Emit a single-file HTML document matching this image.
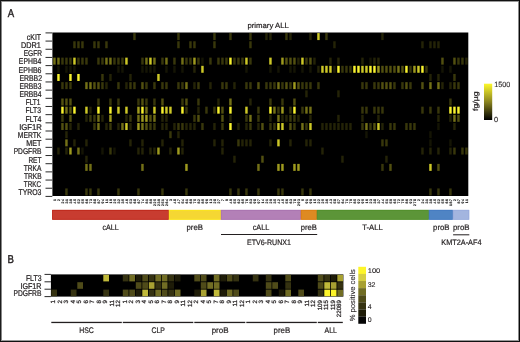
<!DOCTYPE html>
<html><head><meta charset="utf-8"><title>primary ALL heatmap</title>
<style>html,body{margin:0;padding:0;background:#fff;width:520px;height:342px;overflow:hidden;}svg{display:block;will-change:transform;text-rendering:geometricPrecision;} text{stroke:#231f20;stroke-width:0.22px;} text.n{stroke:none;} text.s{stroke:#111;stroke-width:0.18px;} text.g{stroke-width:0.2px;} text.m{stroke-width:0.22px;} text.p{stroke-width:0.45px;} text.t{stroke-width:0.1px;} text.r{stroke-width:0.24px;}</style>
</head><body>
<svg width="520" height="342" viewBox="0 0 520 342" font-family='"Liberation Sans", sans-serif'>
<rect x="0" y="0" width="520" height="342" fill="#fff"/>
<rect x="52.4" y="32.5" width="415.90" height="163.50" fill="#000"/>
<rect x="133.23" y="33.10" width="2.45" height="6.98" fill="rgb(56,55,11)"/>
<rect x="177.23" y="33.10" width="2.45" height="6.98" fill="rgb(56,55,11)"/>
<rect x="213.23" y="33.10" width="2.45" height="6.98" fill="rgb(56,55,11)"/>
<rect x="229.23" y="33.10" width="2.45" height="6.98" fill="rgb(56,55,11)"/>
<rect x="249.23" y="33.10" width="2.45" height="6.98" fill="rgb(56,55,11)"/>
<rect x="265.23" y="33.10" width="2.45" height="6.98" fill="rgb(36,35,7)"/>
<rect x="269.23" y="33.10" width="2.45" height="6.98" fill="rgb(36,35,7)"/>
<rect x="285.23" y="33.10" width="2.45" height="6.98" fill="rgb(56,55,11)"/>
<rect x="289.23" y="33.10" width="2.45" height="6.98" fill="rgb(36,35,7)"/>
<rect x="309.23" y="33.10" width="2.45" height="6.98" fill="rgb(36,35,7)"/>
<rect x="317.23" y="33.10" width="2.45" height="6.98" fill="rgb(205,200,39)"/>
<rect x="325.23" y="33.10" width="2.45" height="6.98" fill="rgb(56,55,11)"/>
<rect x="381.23" y="33.10" width="2.45" height="6.98" fill="rgb(36,35,7)"/>
<rect x="73.23" y="41.27" width="2.45" height="6.98" fill="rgb(56,55,11)"/>
<rect x="77.23" y="41.27" width="2.45" height="6.98" fill="rgb(56,55,11)"/>
<rect x="81.23" y="41.27" width="2.45" height="6.98" fill="rgb(56,55,11)"/>
<rect x="93.23" y="41.27" width="2.45" height="6.98" fill="rgb(56,55,11)"/>
<rect x="97.23" y="41.27" width="2.45" height="6.98" fill="rgb(56,55,11)"/>
<rect x="105.23" y="41.27" width="2.45" height="6.98" fill="rgb(56,55,11)"/>
<rect x="177.23" y="41.27" width="2.45" height="6.98" fill="rgb(56,55,11)"/>
<rect x="189.23" y="41.27" width="2.45" height="6.98" fill="rgb(56,55,11)"/>
<rect x="193.23" y="41.27" width="2.45" height="6.98" fill="rgb(56,55,11)"/>
<rect x="213.23" y="41.27" width="2.45" height="6.98" fill="rgb(56,55,11)"/>
<rect x="249.23" y="41.27" width="2.45" height="6.98" fill="rgb(56,55,11)"/>
<rect x="333.23" y="41.27" width="2.45" height="6.98" fill="rgb(36,35,7)"/>
<rect x="421.23" y="41.27" width="2.45" height="6.98" fill="rgb(36,35,7)"/>
<rect x="429.23" y="41.27" width="2.45" height="6.98" fill="rgb(36,35,7)"/>
<rect x="433.23" y="41.27" width="2.45" height="6.98" fill="rgb(36,35,7)"/>
<rect x="437.23" y="41.27" width="2.45" height="6.98" fill="rgb(36,35,7)"/>
<rect x="53.23" y="57.63" width="2.45" height="6.98" fill="rgb(115,112,22)"/>
<rect x="57.23" y="57.63" width="2.45" height="6.98" fill="rgb(115,112,22)"/>
<rect x="61.23" y="57.63" width="2.45" height="6.98" fill="rgb(56,55,11)"/>
<rect x="65.23" y="57.63" width="2.45" height="6.98" fill="rgb(56,55,11)"/>
<rect x="69.23" y="57.63" width="2.45" height="6.98" fill="rgb(56,55,11)"/>
<rect x="73.23" y="57.63" width="2.45" height="6.98" fill="rgb(205,200,39)"/>
<rect x="77.23" y="57.63" width="2.45" height="6.98" fill="rgb(56,55,11)"/>
<rect x="81.23" y="57.63" width="2.45" height="6.98" fill="rgb(56,55,11)"/>
<rect x="85.23" y="57.63" width="2.45" height="6.98" fill="rgb(56,55,11)"/>
<rect x="97.23" y="57.63" width="2.45" height="6.98" fill="rgb(56,55,11)"/>
<rect x="101.23" y="57.63" width="2.45" height="6.98" fill="rgb(56,55,11)"/>
<rect x="105.23" y="57.63" width="2.45" height="6.98" fill="rgb(115,112,22)"/>
<rect x="109.23" y="57.63" width="2.45" height="6.98" fill="rgb(115,112,22)"/>
<rect x="113.23" y="57.63" width="2.45" height="6.98" fill="rgb(56,55,11)"/>
<rect x="117.23" y="57.63" width="2.45" height="6.98" fill="rgb(56,55,11)"/>
<rect x="121.23" y="57.63" width="2.45" height="6.98" fill="rgb(56,55,11)"/>
<rect x="125.23" y="57.63" width="2.45" height="6.98" fill="rgb(205,200,39)"/>
<rect x="141.23" y="57.63" width="2.45" height="6.98" fill="rgb(56,55,11)"/>
<rect x="145.23" y="57.63" width="2.45" height="6.98" fill="rgb(115,112,22)"/>
<rect x="149.23" y="57.63" width="2.45" height="6.98" fill="rgb(205,200,39)"/>
<rect x="153.23" y="57.63" width="2.45" height="6.98" fill="rgb(115,112,22)"/>
<rect x="161.23" y="57.63" width="2.45" height="6.98" fill="rgb(56,55,11)"/>
<rect x="165.23" y="57.63" width="2.45" height="6.98" fill="rgb(115,112,22)"/>
<rect x="173.23" y="57.63" width="2.45" height="6.98" fill="rgb(56,55,11)"/>
<rect x="181.23" y="57.63" width="2.45" height="6.98" fill="rgb(115,112,22)"/>
<rect x="185.23" y="57.63" width="2.45" height="6.98" fill="rgb(56,55,11)"/>
<rect x="189.23" y="57.63" width="2.45" height="6.98" fill="rgb(56,55,11)"/>
<rect x="193.23" y="57.63" width="2.45" height="6.98" fill="rgb(158,154,30)"/>
<rect x="197.23" y="57.63" width="2.45" height="6.98" fill="rgb(56,55,11)"/>
<rect x="201.23" y="57.63" width="2.45" height="6.98" fill="rgb(20,20,4)"/>
<rect x="209.23" y="57.63" width="2.45" height="6.98" fill="rgb(56,55,11)"/>
<rect x="217.23" y="57.63" width="2.45" height="6.98" fill="rgb(56,55,11)"/>
<rect x="221.23" y="57.63" width="2.45" height="6.98" fill="rgb(56,55,11)"/>
<rect x="225.23" y="57.63" width="2.45" height="6.98" fill="rgb(56,55,11)"/>
<rect x="229.23" y="57.63" width="2.45" height="6.98" fill="rgb(248,242,47)"/>
<rect x="233.23" y="57.63" width="2.45" height="6.98" fill="rgb(56,55,11)"/>
<rect x="237.23" y="57.63" width="2.45" height="6.98" fill="rgb(56,55,11)"/>
<rect x="241.23" y="57.63" width="2.45" height="6.98" fill="rgb(56,55,11)"/>
<rect x="245.23" y="57.63" width="2.45" height="6.98" fill="rgb(205,200,39)"/>
<rect x="249.23" y="57.63" width="2.45" height="6.98" fill="rgb(56,55,11)"/>
<rect x="269.23" y="57.63" width="2.45" height="6.98" fill="rgb(205,200,39)"/>
<rect x="281.23" y="57.63" width="2.45" height="6.98" fill="rgb(158,154,30)"/>
<rect x="285.23" y="57.63" width="2.45" height="6.98" fill="rgb(82,80,16)"/>
<rect x="289.23" y="57.63" width="2.45" height="6.98" fill="rgb(82,80,16)"/>
<rect x="293.23" y="57.63" width="2.45" height="6.98" fill="rgb(82,80,16)"/>
<rect x="297.23" y="57.63" width="2.45" height="6.98" fill="rgb(36,35,7)"/>
<rect x="301.23" y="57.63" width="2.45" height="6.98" fill="rgb(205,200,39)"/>
<rect x="305.23" y="57.63" width="2.45" height="6.98" fill="rgb(56,55,11)"/>
<rect x="309.23" y="57.63" width="2.45" height="6.98" fill="rgb(82,80,16)"/>
<rect x="313.23" y="57.63" width="2.45" height="6.98" fill="rgb(36,35,7)"/>
<rect x="329.23" y="57.63" width="2.45" height="6.98" fill="rgb(36,35,7)"/>
<rect x="337.23" y="57.63" width="2.45" height="6.98" fill="rgb(36,35,7)"/>
<rect x="361.23" y="57.63" width="2.45" height="6.98" fill="rgb(36,35,7)"/>
<rect x="369.23" y="57.63" width="2.45" height="6.98" fill="rgb(20,20,4)"/>
<rect x="373.23" y="57.63" width="2.45" height="6.98" fill="rgb(36,35,7)"/>
<rect x="377.23" y="57.63" width="2.45" height="6.98" fill="rgb(36,35,7)"/>
<rect x="441.23" y="57.63" width="2.45" height="6.98" fill="rgb(82,80,16)"/>
<rect x="453.23" y="57.63" width="2.45" height="6.98" fill="rgb(82,80,16)"/>
<rect x="457.23" y="57.63" width="2.45" height="6.98" fill="rgb(56,55,11)"/>
<rect x="461.23" y="57.63" width="2.45" height="6.98" fill="rgb(56,55,11)"/>
<rect x="465.23" y="57.63" width="2.45" height="6.98" fill="rgb(36,35,7)"/>
<rect x="57.23" y="65.80" width="2.45" height="6.98" fill="rgb(20,20,4)"/>
<rect x="65.23" y="65.80" width="2.45" height="6.98" fill="rgb(20,20,4)"/>
<rect x="69.23" y="65.80" width="2.45" height="6.98" fill="rgb(20,20,4)"/>
<rect x="73.23" y="65.80" width="2.45" height="6.98" fill="rgb(20,20,4)"/>
<rect x="117.23" y="65.80" width="2.45" height="6.98" fill="rgb(20,20,4)"/>
<rect x="121.23" y="65.80" width="2.45" height="6.98" fill="rgb(20,20,4)"/>
<rect x="141.23" y="65.80" width="2.45" height="6.98" fill="rgb(20,20,4)"/>
<rect x="145.23" y="65.80" width="2.45" height="6.98" fill="rgb(20,20,4)"/>
<rect x="149.23" y="65.80" width="2.45" height="6.98" fill="rgb(20,20,4)"/>
<rect x="153.23" y="65.80" width="2.45" height="6.98" fill="rgb(20,20,4)"/>
<rect x="165.23" y="65.80" width="2.45" height="6.98" fill="rgb(20,20,4)"/>
<rect x="173.23" y="65.80" width="2.45" height="6.98" fill="rgb(20,20,4)"/>
<rect x="181.23" y="65.80" width="2.45" height="6.98" fill="rgb(20,20,4)"/>
<rect x="193.23" y="65.80" width="2.45" height="6.98" fill="rgb(36,35,7)"/>
<rect x="201.23" y="65.80" width="2.45" height="6.98" fill="rgb(205,200,39)"/>
<rect x="245.23" y="65.80" width="2.45" height="6.98" fill="rgb(20,20,4)"/>
<rect x="269.23" y="65.80" width="2.45" height="6.98" fill="rgb(20,20,4)"/>
<rect x="277.23" y="65.80" width="2.45" height="6.98" fill="rgb(20,20,4)"/>
<rect x="289.23" y="65.80" width="2.45" height="6.98" fill="rgb(20,20,4)"/>
<rect x="293.23" y="65.80" width="2.45" height="6.98" fill="rgb(20,20,4)"/>
<rect x="301.23" y="65.80" width="2.45" height="6.98" fill="rgb(20,20,4)"/>
<rect x="309.23" y="65.80" width="2.45" height="6.98" fill="rgb(20,20,4)"/>
<rect x="317.23" y="65.80" width="2.45" height="6.98" fill="rgb(36,35,7)"/>
<rect x="321.23" y="65.80" width="2.45" height="6.98" fill="rgb(205,200,39)"/>
<rect x="325.23" y="65.80" width="2.45" height="6.98" fill="rgb(205,200,39)"/>
<rect x="329.23" y="65.80" width="2.45" height="6.98" fill="rgb(205,200,39)"/>
<rect x="333.23" y="65.80" width="2.45" height="6.98" fill="rgb(36,35,7)"/>
<rect x="337.23" y="65.80" width="2.45" height="6.98" fill="rgb(248,242,47)"/>
<rect x="341.23" y="65.80" width="2.45" height="6.98" fill="rgb(56,55,11)"/>
<rect x="345.23" y="65.80" width="2.45" height="6.98" fill="rgb(56,55,11)"/>
<rect x="349.23" y="65.80" width="2.45" height="6.98" fill="rgb(56,55,11)"/>
<rect x="353.23" y="65.80" width="2.45" height="6.98" fill="rgb(248,242,47)"/>
<rect x="357.23" y="65.80" width="2.45" height="6.98" fill="rgb(248,242,47)"/>
<rect x="361.23" y="65.80" width="2.45" height="6.98" fill="rgb(205,200,39)"/>
<rect x="365.23" y="65.80" width="2.45" height="6.98" fill="rgb(205,200,39)"/>
<rect x="369.23" y="65.80" width="2.45" height="6.98" fill="rgb(248,242,47)"/>
<rect x="373.23" y="65.80" width="2.45" height="6.98" fill="rgb(248,242,47)"/>
<rect x="377.23" y="65.80" width="2.45" height="6.98" fill="rgb(158,154,30)"/>
<rect x="381.23" y="65.80" width="2.45" height="6.98" fill="rgb(82,80,16)"/>
<rect x="385.23" y="65.80" width="2.45" height="6.98" fill="rgb(82,80,16)"/>
<rect x="389.23" y="65.80" width="2.45" height="6.98" fill="rgb(82,80,16)"/>
<rect x="393.23" y="65.80" width="2.45" height="6.98" fill="rgb(82,80,16)"/>
<rect x="397.23" y="65.80" width="2.45" height="6.98" fill="rgb(115,112,22)"/>
<rect x="401.23" y="65.80" width="2.45" height="6.98" fill="rgb(82,80,16)"/>
<rect x="405.23" y="65.80" width="2.45" height="6.98" fill="rgb(248,242,47)"/>
<rect x="409.23" y="65.80" width="2.45" height="6.98" fill="rgb(56,55,11)"/>
<rect x="413.23" y="65.80" width="2.45" height="6.98" fill="rgb(158,154,30)"/>
<rect x="417.23" y="65.80" width="2.45" height="6.98" fill="rgb(205,200,39)"/>
<rect x="421.23" y="65.80" width="2.45" height="6.98" fill="rgb(248,242,47)"/>
<rect x="425.23" y="65.80" width="2.45" height="6.98" fill="rgb(56,55,11)"/>
<rect x="441.23" y="65.80" width="2.45" height="6.98" fill="rgb(20,20,4)"/>
<rect x="449.23" y="65.80" width="2.45" height="6.98" fill="rgb(20,20,4)"/>
<rect x="57.23" y="73.97" width="2.45" height="6.98" fill="rgb(248,242,47)"/>
<rect x="69.23" y="73.97" width="2.45" height="6.98" fill="rgb(248,242,47)"/>
<rect x="77.23" y="73.97" width="2.45" height="6.98" fill="rgb(248,242,47)"/>
<rect x="101.23" y="73.97" width="2.45" height="6.98" fill="rgb(56,55,11)"/>
<rect x="109.23" y="73.97" width="2.45" height="6.98" fill="rgb(36,35,7)"/>
<rect x="129.23" y="73.97" width="2.45" height="6.98" fill="rgb(36,35,7)"/>
<rect x="157.23" y="73.97" width="2.45" height="6.98" fill="rgb(205,200,39)"/>
<rect x="429.23" y="73.97" width="2.45" height="6.98" fill="rgb(36,35,7)"/>
<rect x="437.23" y="73.97" width="2.45" height="6.98" fill="rgb(36,35,7)"/>
<rect x="453.23" y="73.97" width="2.45" height="6.98" fill="rgb(56,55,11)"/>
<rect x="61.23" y="82.15" width="2.45" height="6.98" fill="rgb(56,55,11)"/>
<rect x="65.23" y="82.15" width="2.45" height="6.98" fill="rgb(56,55,11)"/>
<rect x="69.23" y="82.15" width="2.45" height="6.98" fill="rgb(56,55,11)"/>
<rect x="85.23" y="82.15" width="2.45" height="6.98" fill="rgb(115,112,22)"/>
<rect x="89.23" y="82.15" width="2.45" height="6.98" fill="rgb(115,112,22)"/>
<rect x="93.23" y="82.15" width="2.45" height="6.98" fill="rgb(82,80,16)"/>
<rect x="97.23" y="82.15" width="2.45" height="6.98" fill="rgb(82,80,16)"/>
<rect x="101.23" y="82.15" width="2.45" height="6.98" fill="rgb(56,55,11)"/>
<rect x="105.23" y="82.15" width="2.45" height="6.98" fill="rgb(36,35,7)"/>
<rect x="117.23" y="82.15" width="2.45" height="6.98" fill="rgb(56,55,11)"/>
<rect x="125.23" y="82.15" width="2.45" height="6.98" fill="rgb(36,35,7)"/>
<rect x="129.23" y="82.15" width="2.45" height="6.98" fill="rgb(56,55,11)"/>
<rect x="133.23" y="82.15" width="2.45" height="6.98" fill="rgb(56,55,11)"/>
<rect x="141.23" y="82.15" width="2.45" height="6.98" fill="rgb(82,80,16)"/>
<rect x="145.23" y="82.15" width="2.45" height="6.98" fill="rgb(56,55,11)"/>
<rect x="153.23" y="82.15" width="2.45" height="6.98" fill="rgb(56,55,11)"/>
<rect x="161.23" y="82.15" width="2.45" height="6.98" fill="rgb(56,55,11)"/>
<rect x="165.23" y="82.15" width="2.45" height="6.98" fill="rgb(56,55,11)"/>
<rect x="177.23" y="82.15" width="2.45" height="6.98" fill="rgb(56,55,11)"/>
<rect x="181.23" y="82.15" width="2.45" height="6.98" fill="rgb(56,55,11)"/>
<rect x="185.23" y="82.15" width="2.45" height="6.98" fill="rgb(115,112,22)"/>
<rect x="193.23" y="82.15" width="2.45" height="6.98" fill="rgb(36,35,7)"/>
<rect x="197.23" y="82.15" width="2.45" height="6.98" fill="rgb(56,55,11)"/>
<rect x="209.23" y="82.15" width="2.45" height="6.98" fill="rgb(36,35,7)"/>
<rect x="221.23" y="82.15" width="2.45" height="6.98" fill="rgb(56,55,11)"/>
<rect x="225.23" y="82.15" width="2.45" height="6.98" fill="rgb(56,55,11)"/>
<rect x="233.23" y="82.15" width="2.45" height="6.98" fill="rgb(36,35,7)"/>
<rect x="245.23" y="82.15" width="2.45" height="6.98" fill="rgb(56,55,11)"/>
<rect x="249.23" y="82.15" width="2.45" height="6.98" fill="rgb(56,55,11)"/>
<rect x="257.23" y="82.15" width="2.45" height="6.98" fill="rgb(82,80,16)"/>
<rect x="265.23" y="82.15" width="2.45" height="6.98" fill="rgb(56,55,11)"/>
<rect x="269.23" y="82.15" width="2.45" height="6.98" fill="rgb(56,55,11)"/>
<rect x="273.23" y="82.15" width="2.45" height="6.98" fill="rgb(56,55,11)"/>
<rect x="277.23" y="82.15" width="2.45" height="6.98" fill="rgb(115,112,22)"/>
<rect x="281.23" y="82.15" width="2.45" height="6.98" fill="rgb(56,55,11)"/>
<rect x="285.23" y="82.15" width="2.45" height="6.98" fill="rgb(82,80,16)"/>
<rect x="289.23" y="82.15" width="2.45" height="6.98" fill="rgb(56,55,11)"/>
<rect x="293.23" y="82.15" width="2.45" height="6.98" fill="rgb(158,154,30)"/>
<rect x="297.23" y="82.15" width="2.45" height="6.98" fill="rgb(82,80,16)"/>
<rect x="301.23" y="82.15" width="2.45" height="6.98" fill="rgb(56,55,11)"/>
<rect x="305.23" y="82.15" width="2.45" height="6.98" fill="rgb(56,55,11)"/>
<rect x="309.23" y="82.15" width="2.45" height="6.98" fill="rgb(56,55,11)"/>
<rect x="317.23" y="82.15" width="2.45" height="6.98" fill="rgb(56,55,11)"/>
<rect x="361.23" y="82.15" width="2.45" height="6.98" fill="rgb(56,55,11)"/>
<rect x="365.23" y="82.15" width="2.45" height="6.98" fill="rgb(56,55,11)"/>
<rect x="373.23" y="82.15" width="2.45" height="6.98" fill="rgb(56,55,11)"/>
<rect x="377.23" y="82.15" width="2.45" height="6.98" fill="rgb(56,55,11)"/>
<rect x="381.23" y="82.15" width="2.45" height="6.98" fill="rgb(82,80,16)"/>
<rect x="385.23" y="82.15" width="2.45" height="6.98" fill="rgb(82,80,16)"/>
<rect x="389.23" y="82.15" width="2.45" height="6.98" fill="rgb(82,80,16)"/>
<rect x="393.23" y="82.15" width="2.45" height="6.98" fill="rgb(56,55,11)"/>
<rect x="401.23" y="82.15" width="2.45" height="6.98" fill="rgb(56,55,11)"/>
<rect x="405.23" y="82.15" width="2.45" height="6.98" fill="rgb(82,80,16)"/>
<rect x="409.23" y="82.15" width="2.45" height="6.98" fill="rgb(56,55,11)"/>
<rect x="421.23" y="82.15" width="2.45" height="6.98" fill="rgb(82,80,16)"/>
<rect x="429.23" y="82.15" width="2.45" height="6.98" fill="rgb(115,112,22)"/>
<rect x="437.23" y="82.15" width="2.45" height="6.98" fill="rgb(115,112,22)"/>
<rect x="441.23" y="82.15" width="2.45" height="6.98" fill="rgb(36,35,7)"/>
<rect x="449.23" y="82.15" width="2.45" height="6.98" fill="rgb(36,35,7)"/>
<rect x="453.23" y="82.15" width="2.45" height="6.98" fill="rgb(56,55,11)"/>
<rect x="457.23" y="82.15" width="2.45" height="6.98" fill="rgb(56,55,11)"/>
<rect x="305.23" y="90.33" width="2.45" height="6.98" fill="rgb(36,35,7)"/>
<rect x="337.23" y="90.33" width="2.45" height="6.98" fill="rgb(36,35,7)"/>
<rect x="61.23" y="98.50" width="2.45" height="6.98" fill="rgb(82,80,16)"/>
<rect x="65.23" y="98.50" width="2.45" height="6.98" fill="rgb(82,80,16)"/>
<rect x="69.23" y="98.50" width="2.45" height="6.98" fill="rgb(82,80,16)"/>
<rect x="97.23" y="98.50" width="2.45" height="6.98" fill="rgb(56,55,11)"/>
<rect x="109.23" y="98.50" width="2.45" height="6.98" fill="rgb(56,55,11)"/>
<rect x="117.23" y="98.50" width="2.45" height="6.98" fill="rgb(56,55,11)"/>
<rect x="137.23" y="98.50" width="2.45" height="6.98" fill="rgb(56,55,11)"/>
<rect x="141.23" y="98.50" width="2.45" height="6.98" fill="rgb(82,80,16)"/>
<rect x="145.23" y="98.50" width="2.45" height="6.98" fill="rgb(56,55,11)"/>
<rect x="153.23" y="98.50" width="2.45" height="6.98" fill="rgb(56,55,11)"/>
<rect x="161.23" y="98.50" width="2.45" height="6.98" fill="rgb(82,80,16)"/>
<rect x="181.23" y="98.50" width="2.45" height="6.98" fill="rgb(56,55,11)"/>
<rect x="185.23" y="98.50" width="2.45" height="6.98" fill="rgb(82,80,16)"/>
<rect x="197.23" y="98.50" width="2.45" height="6.98" fill="rgb(56,55,11)"/>
<rect x="217.23" y="98.50" width="2.45" height="6.98" fill="rgb(36,35,7)"/>
<rect x="229.23" y="98.50" width="2.45" height="6.98" fill="rgb(115,112,22)"/>
<rect x="249.23" y="98.50" width="2.45" height="6.98" fill="rgb(36,35,7)"/>
<rect x="269.23" y="98.50" width="2.45" height="6.98" fill="rgb(56,55,11)"/>
<rect x="281.23" y="98.50" width="2.45" height="6.98" fill="rgb(56,55,11)"/>
<rect x="293.23" y="98.50" width="2.45" height="6.98" fill="rgb(82,80,16)"/>
<rect x="449.23" y="98.50" width="2.45" height="6.98" fill="rgb(56,55,11)"/>
<rect x="61.23" y="106.67" width="2.45" height="6.98" fill="rgb(248,242,47)"/>
<rect x="65.23" y="106.67" width="2.45" height="6.98" fill="rgb(115,112,22)"/>
<rect x="69.23" y="106.67" width="2.45" height="6.98" fill="rgb(82,80,16)"/>
<rect x="73.23" y="106.67" width="2.45" height="6.98" fill="rgb(248,242,47)"/>
<rect x="85.23" y="106.67" width="2.45" height="6.98" fill="rgb(205,200,39)"/>
<rect x="89.23" y="106.67" width="2.45" height="6.98" fill="rgb(36,35,7)"/>
<rect x="97.23" y="106.67" width="2.45" height="6.98" fill="rgb(248,242,47)"/>
<rect x="109.23" y="106.67" width="2.45" height="6.98" fill="rgb(248,242,47)"/>
<rect x="117.23" y="106.67" width="2.45" height="6.98" fill="rgb(205,200,39)"/>
<rect x="125.23" y="106.67" width="2.45" height="6.98" fill="rgb(205,200,39)"/>
<rect x="137.23" y="106.67" width="2.45" height="6.98" fill="rgb(158,154,30)"/>
<rect x="141.23" y="106.67" width="2.45" height="6.98" fill="rgb(248,242,47)"/>
<rect x="145.23" y="106.67" width="2.45" height="6.98" fill="rgb(115,112,22)"/>
<rect x="153.23" y="106.67" width="2.45" height="6.98" fill="rgb(205,200,39)"/>
<rect x="161.23" y="106.67" width="2.45" height="6.98" fill="rgb(248,242,47)"/>
<rect x="165.23" y="106.67" width="2.45" height="6.98" fill="rgb(205,200,39)"/>
<rect x="169.23" y="106.67" width="2.45" height="6.98" fill="rgb(205,200,39)"/>
<rect x="181.23" y="106.67" width="2.45" height="6.98" fill="rgb(248,242,47)"/>
<rect x="185.23" y="106.67" width="2.45" height="6.98" fill="rgb(56,55,11)"/>
<rect x="197.23" y="106.67" width="2.45" height="6.98" fill="rgb(36,35,7)"/>
<rect x="205.23" y="106.67" width="2.45" height="6.98" fill="rgb(56,55,11)"/>
<rect x="213.23" y="106.67" width="2.45" height="6.98" fill="rgb(56,55,11)"/>
<rect x="217.23" y="106.67" width="2.45" height="6.98" fill="rgb(248,242,47)"/>
<rect x="221.23" y="106.67" width="2.45" height="6.98" fill="rgb(82,80,16)"/>
<rect x="229.23" y="106.67" width="2.45" height="6.98" fill="rgb(248,242,47)"/>
<rect x="245.23" y="106.67" width="2.45" height="6.98" fill="rgb(205,200,39)"/>
<rect x="257.23" y="106.67" width="2.45" height="6.98" fill="rgb(56,55,11)"/>
<rect x="269.23" y="106.67" width="2.45" height="6.98" fill="rgb(248,242,47)"/>
<rect x="273.23" y="106.67" width="2.45" height="6.98" fill="rgb(115,112,22)"/>
<rect x="277.23" y="106.67" width="2.45" height="6.98" fill="rgb(56,55,11)"/>
<rect x="281.23" y="106.67" width="2.45" height="6.98" fill="rgb(158,154,30)"/>
<rect x="289.23" y="106.67" width="2.45" height="6.98" fill="rgb(56,55,11)"/>
<rect x="293.23" y="106.67" width="2.45" height="6.98" fill="rgb(248,242,47)"/>
<rect x="301.23" y="106.67" width="2.45" height="6.98" fill="rgb(56,55,11)"/>
<rect x="305.23" y="106.67" width="2.45" height="6.98" fill="rgb(115,112,22)"/>
<rect x="309.23" y="106.67" width="2.45" height="6.98" fill="rgb(115,112,22)"/>
<rect x="361.23" y="106.67" width="2.45" height="6.98" fill="rgb(56,55,11)"/>
<rect x="365.23" y="106.67" width="2.45" height="6.98" fill="rgb(56,55,11)"/>
<rect x="373.23" y="106.67" width="2.45" height="6.98" fill="rgb(56,55,11)"/>
<rect x="377.23" y="106.67" width="2.45" height="6.98" fill="rgb(56,55,11)"/>
<rect x="381.23" y="106.67" width="2.45" height="6.98" fill="rgb(56,55,11)"/>
<rect x="421.23" y="106.67" width="2.45" height="6.98" fill="rgb(56,55,11)"/>
<rect x="429.23" y="106.67" width="2.45" height="6.98" fill="rgb(56,55,11)"/>
<rect x="437.23" y="106.67" width="2.45" height="6.98" fill="rgb(56,55,11)"/>
<rect x="449.23" y="106.67" width="2.45" height="6.98" fill="rgb(248,242,47)"/>
<rect x="453.23" y="106.67" width="2.45" height="6.98" fill="rgb(248,242,47)"/>
<rect x="457.23" y="106.67" width="2.45" height="6.98" fill="rgb(248,242,47)"/>
<rect x="61.23" y="114.85" width="2.45" height="6.98" fill="rgb(56,55,11)"/>
<rect x="69.23" y="114.85" width="2.45" height="6.98" fill="rgb(82,80,16)"/>
<rect x="85.23" y="114.85" width="2.45" height="6.98" fill="rgb(36,35,7)"/>
<rect x="89.23" y="114.85" width="2.45" height="6.98" fill="rgb(56,55,11)"/>
<rect x="93.23" y="114.85" width="2.45" height="6.98" fill="rgb(56,55,11)"/>
<rect x="97.23" y="114.85" width="2.45" height="6.98" fill="rgb(115,112,22)"/>
<rect x="101.23" y="114.85" width="2.45" height="6.98" fill="rgb(36,35,7)"/>
<rect x="109.23" y="114.85" width="2.45" height="6.98" fill="rgb(158,154,30)"/>
<rect x="125.23" y="114.85" width="2.45" height="6.98" fill="rgb(36,35,7)"/>
<rect x="129.23" y="114.85" width="2.45" height="6.98" fill="rgb(56,55,11)"/>
<rect x="137.23" y="114.85" width="2.45" height="6.98" fill="rgb(115,112,22)"/>
<rect x="141.23" y="114.85" width="2.45" height="6.98" fill="rgb(158,154,30)"/>
<rect x="145.23" y="114.85" width="2.45" height="6.98" fill="rgb(158,154,30)"/>
<rect x="149.23" y="114.85" width="2.45" height="6.98" fill="rgb(82,80,16)"/>
<rect x="153.23" y="114.85" width="2.45" height="6.98" fill="rgb(115,112,22)"/>
<rect x="161.23" y="114.85" width="2.45" height="6.98" fill="rgb(36,35,7)"/>
<rect x="165.23" y="114.85" width="2.45" height="6.98" fill="rgb(36,35,7)"/>
<rect x="193.23" y="114.85" width="2.45" height="6.98" fill="rgb(56,55,11)"/>
<rect x="197.23" y="114.85" width="2.45" height="6.98" fill="rgb(82,80,16)"/>
<rect x="221.23" y="114.85" width="2.45" height="6.98" fill="rgb(82,80,16)"/>
<rect x="229.23" y="114.85" width="2.45" height="6.98" fill="rgb(36,35,7)"/>
<rect x="245.23" y="114.85" width="2.45" height="6.98" fill="rgb(56,55,11)"/>
<rect x="249.23" y="114.85" width="2.45" height="6.98" fill="rgb(115,112,22)"/>
<rect x="257.23" y="114.85" width="2.45" height="6.98" fill="rgb(56,55,11)"/>
<rect x="269.23" y="114.85" width="2.45" height="6.98" fill="rgb(36,35,7)"/>
<rect x="277.23" y="114.85" width="2.45" height="6.98" fill="rgb(115,112,22)"/>
<rect x="281.23" y="114.85" width="2.45" height="6.98" fill="rgb(36,35,7)"/>
<rect x="285.23" y="114.85" width="2.45" height="6.98" fill="rgb(36,35,7)"/>
<rect x="289.23" y="114.85" width="2.45" height="6.98" fill="rgb(56,55,11)"/>
<rect x="293.23" y="114.85" width="2.45" height="6.98" fill="rgb(56,55,11)"/>
<rect x="297.23" y="114.85" width="2.45" height="6.98" fill="rgb(36,35,7)"/>
<rect x="309.23" y="114.85" width="2.45" height="6.98" fill="rgb(36,35,7)"/>
<rect x="337.23" y="114.85" width="2.45" height="6.98" fill="rgb(36,35,7)"/>
<rect x="361.23" y="114.85" width="2.45" height="6.98" fill="rgb(36,35,7)"/>
<rect x="377.23" y="114.85" width="2.45" height="6.98" fill="rgb(36,35,7)"/>
<rect x="437.23" y="114.85" width="2.45" height="6.98" fill="rgb(36,35,7)"/>
<rect x="449.23" y="114.85" width="2.45" height="6.98" fill="rgb(36,35,7)"/>
<rect x="453.23" y="114.85" width="2.45" height="6.98" fill="rgb(115,112,22)"/>
<rect x="457.23" y="114.85" width="2.45" height="6.98" fill="rgb(82,80,16)"/>
<rect x="61.23" y="123.03" width="2.45" height="6.98" fill="rgb(82,80,16)"/>
<rect x="65.23" y="123.03" width="2.45" height="6.98" fill="rgb(82,80,16)"/>
<rect x="69.23" y="123.03" width="2.45" height="6.98" fill="rgb(36,35,7)"/>
<rect x="77.23" y="123.03" width="2.45" height="6.98" fill="rgb(36,35,7)"/>
<rect x="93.23" y="123.03" width="2.45" height="6.98" fill="rgb(56,55,11)"/>
<rect x="97.23" y="123.03" width="2.45" height="6.98" fill="rgb(115,112,22)"/>
<rect x="105.23" y="123.03" width="2.45" height="6.98" fill="rgb(36,35,7)"/>
<rect x="109.23" y="123.03" width="2.45" height="6.98" fill="rgb(56,55,11)"/>
<rect x="117.23" y="123.03" width="2.45" height="6.98" fill="rgb(36,35,7)"/>
<rect x="121.23" y="123.03" width="2.45" height="6.98" fill="rgb(115,112,22)"/>
<rect x="125.23" y="123.03" width="2.45" height="6.98" fill="rgb(205,200,39)"/>
<rect x="129.23" y="123.03" width="2.45" height="6.98" fill="rgb(36,35,7)"/>
<rect x="137.23" y="123.03" width="2.45" height="6.98" fill="rgb(158,154,30)"/>
<rect x="141.23" y="123.03" width="2.45" height="6.98" fill="rgb(115,112,22)"/>
<rect x="145.23" y="123.03" width="2.45" height="6.98" fill="rgb(82,80,16)"/>
<rect x="149.23" y="123.03" width="2.45" height="6.98" fill="rgb(56,55,11)"/>
<rect x="153.23" y="123.03" width="2.45" height="6.98" fill="rgb(56,55,11)"/>
<rect x="161.23" y="123.03" width="2.45" height="6.98" fill="rgb(36,35,7)"/>
<rect x="165.23" y="123.03" width="2.45" height="6.98" fill="rgb(36,35,7)"/>
<rect x="173.23" y="123.03" width="2.45" height="6.98" fill="rgb(36,35,7)"/>
<rect x="177.23" y="123.03" width="2.45" height="6.98" fill="rgb(56,55,11)"/>
<rect x="181.23" y="123.03" width="2.45" height="6.98" fill="rgb(56,55,11)"/>
<rect x="185.23" y="123.03" width="2.45" height="6.98" fill="rgb(36,35,7)"/>
<rect x="189.23" y="123.03" width="2.45" height="6.98" fill="rgb(36,35,7)"/>
<rect x="193.23" y="123.03" width="2.45" height="6.98" fill="rgb(36,35,7)"/>
<rect x="201.23" y="123.03" width="2.45" height="6.98" fill="rgb(56,55,11)"/>
<rect x="213.23" y="123.03" width="2.45" height="6.98" fill="rgb(36,35,7)"/>
<rect x="221.23" y="123.03" width="2.45" height="6.98" fill="rgb(56,55,11)"/>
<rect x="229.23" y="123.03" width="2.45" height="6.98" fill="rgb(248,242,47)"/>
<rect x="237.23" y="123.03" width="2.45" height="6.98" fill="rgb(36,35,7)"/>
<rect x="245.23" y="123.03" width="2.45" height="6.98" fill="rgb(36,35,7)"/>
<rect x="249.23" y="123.03" width="2.45" height="6.98" fill="rgb(56,55,11)"/>
<rect x="257.23" y="123.03" width="2.45" height="6.98" fill="rgb(36,35,7)"/>
<rect x="261.23" y="123.03" width="2.45" height="6.98" fill="rgb(82,80,16)"/>
<rect x="269.23" y="123.03" width="2.45" height="6.98" fill="rgb(56,55,11)"/>
<rect x="273.23" y="123.03" width="2.45" height="6.98" fill="rgb(56,55,11)"/>
<rect x="277.23" y="123.03" width="2.45" height="6.98" fill="rgb(205,200,39)"/>
<rect x="281.23" y="123.03" width="2.45" height="6.98" fill="rgb(205,200,39)"/>
<rect x="289.23" y="123.03" width="2.45" height="6.98" fill="rgb(82,80,16)"/>
<rect x="293.23" y="123.03" width="2.45" height="6.98" fill="rgb(56,55,11)"/>
<rect x="301.23" y="123.03" width="2.45" height="6.98" fill="rgb(115,112,22)"/>
<rect x="305.23" y="123.03" width="2.45" height="6.98" fill="rgb(56,55,11)"/>
<rect x="309.23" y="123.03" width="2.45" height="6.98" fill="rgb(205,200,39)"/>
<rect x="321.23" y="123.03" width="2.45" height="6.98" fill="rgb(36,35,7)"/>
<rect x="325.23" y="123.03" width="2.45" height="6.98" fill="rgb(36,35,7)"/>
<rect x="329.23" y="123.03" width="2.45" height="6.98" fill="rgb(36,35,7)"/>
<rect x="333.23" y="123.03" width="2.45" height="6.98" fill="rgb(36,35,7)"/>
<rect x="337.23" y="123.03" width="2.45" height="6.98" fill="rgb(36,35,7)"/>
<rect x="341.23" y="123.03" width="2.45" height="6.98" fill="rgb(36,35,7)"/>
<rect x="345.23" y="123.03" width="2.45" height="6.98" fill="rgb(36,35,7)"/>
<rect x="349.23" y="123.03" width="2.45" height="6.98" fill="rgb(36,35,7)"/>
<rect x="361.23" y="123.03" width="2.45" height="6.98" fill="rgb(56,55,11)"/>
<rect x="365.23" y="123.03" width="2.45" height="6.98" fill="rgb(115,112,22)"/>
<rect x="369.23" y="123.03" width="2.45" height="6.98" fill="rgb(56,55,11)"/>
<rect x="373.23" y="123.03" width="2.45" height="6.98" fill="rgb(82,80,16)"/>
<rect x="377.23" y="123.03" width="2.45" height="6.98" fill="rgb(205,200,39)"/>
<rect x="381.23" y="123.03" width="2.45" height="6.98" fill="rgb(36,35,7)"/>
<rect x="389.23" y="123.03" width="2.45" height="6.98" fill="rgb(56,55,11)"/>
<rect x="393.23" y="123.03" width="2.45" height="6.98" fill="rgb(56,55,11)"/>
<rect x="405.23" y="123.03" width="2.45" height="6.98" fill="rgb(56,55,11)"/>
<rect x="409.23" y="123.03" width="2.45" height="6.98" fill="rgb(56,55,11)"/>
<rect x="413.23" y="123.03" width="2.45" height="6.98" fill="rgb(56,55,11)"/>
<rect x="437.23" y="123.03" width="2.45" height="6.98" fill="rgb(20,20,4)"/>
<rect x="453.23" y="123.03" width="2.45" height="6.98" fill="rgb(36,35,7)"/>
<rect x="65.23" y="131.20" width="2.45" height="6.98" fill="rgb(36,35,7)"/>
<rect x="169.23" y="131.20" width="2.45" height="6.98" fill="rgb(56,55,11)"/>
<rect x="177.23" y="131.20" width="2.45" height="6.98" fill="rgb(36,35,7)"/>
<rect x="365.23" y="131.20" width="2.45" height="6.98" fill="rgb(20,20,4)"/>
<rect x="429.23" y="131.20" width="2.45" height="6.98" fill="rgb(20,20,4)"/>
<rect x="65.23" y="139.38" width="2.45" height="6.98" fill="rgb(115,112,22)"/>
<rect x="73.23" y="139.38" width="2.45" height="6.98" fill="rgb(36,35,7)"/>
<rect x="85.23" y="139.38" width="2.45" height="6.98" fill="rgb(36,35,7)"/>
<rect x="129.23" y="139.38" width="2.45" height="6.98" fill="rgb(36,35,7)"/>
<rect x="141.23" y="139.38" width="2.45" height="6.98" fill="rgb(36,35,7)"/>
<rect x="161.23" y="139.38" width="2.45" height="6.98" fill="rgb(36,35,7)"/>
<rect x="181.23" y="139.38" width="2.45" height="6.98" fill="rgb(36,35,7)"/>
<rect x="213.23" y="139.38" width="2.45" height="6.98" fill="rgb(36,35,7)"/>
<rect x="221.23" y="139.38" width="2.45" height="6.98" fill="rgb(36,35,7)"/>
<rect x="237.23" y="139.38" width="2.45" height="6.98" fill="rgb(56,55,11)"/>
<rect x="241.23" y="139.38" width="2.45" height="6.98" fill="rgb(36,35,7)"/>
<rect x="245.23" y="139.38" width="2.45" height="6.98" fill="rgb(36,35,7)"/>
<rect x="249.23" y="139.38" width="2.45" height="6.98" fill="rgb(36,35,7)"/>
<rect x="269.23" y="139.38" width="2.45" height="6.98" fill="rgb(36,35,7)"/>
<rect x="277.23" y="139.38" width="2.45" height="6.98" fill="rgb(205,200,39)"/>
<rect x="289.23" y="139.38" width="2.45" height="6.98" fill="rgb(36,35,7)"/>
<rect x="305.23" y="139.38" width="2.45" height="6.98" fill="rgb(36,35,7)"/>
<rect x="309.23" y="139.38" width="2.45" height="6.98" fill="rgb(36,35,7)"/>
<rect x="381.23" y="139.38" width="2.45" height="6.98" fill="rgb(56,55,11)"/>
<rect x="385.23" y="139.38" width="2.45" height="6.98" fill="rgb(56,55,11)"/>
<rect x="429.23" y="139.38" width="2.45" height="6.98" fill="rgb(20,20,4)"/>
<rect x="449.23" y="139.38" width="2.45" height="6.98" fill="rgb(20,20,4)"/>
<rect x="57.23" y="147.55" width="2.45" height="6.98" fill="rgb(36,35,7)"/>
<rect x="65.23" y="147.55" width="2.45" height="6.98" fill="rgb(36,35,7)"/>
<rect x="69.23" y="147.55" width="2.45" height="6.98" fill="rgb(158,154,30)"/>
<rect x="77.23" y="147.55" width="2.45" height="6.98" fill="rgb(115,112,22)"/>
<rect x="81.23" y="147.55" width="2.45" height="6.98" fill="rgb(20,20,4)"/>
<rect x="101.23" y="147.55" width="2.45" height="6.98" fill="rgb(20,20,4)"/>
<rect x="109.23" y="147.55" width="2.45" height="6.98" fill="rgb(56,55,11)"/>
<rect x="113.23" y="147.55" width="2.45" height="6.98" fill="rgb(20,20,4)"/>
<rect x="137.23" y="147.55" width="2.45" height="6.98" fill="rgb(36,35,7)"/>
<rect x="141.23" y="147.55" width="2.45" height="6.98" fill="rgb(36,35,7)"/>
<rect x="149.23" y="147.55" width="2.45" height="6.98" fill="rgb(36,35,7)"/>
<rect x="153.23" y="147.55" width="2.45" height="6.98" fill="rgb(36,35,7)"/>
<rect x="157.23" y="147.55" width="2.45" height="6.98" fill="rgb(158,154,30)"/>
<rect x="169.23" y="147.55" width="2.45" height="6.98" fill="rgb(36,35,7)"/>
<rect x="177.23" y="147.55" width="2.45" height="6.98" fill="rgb(158,154,30)"/>
<rect x="181.23" y="147.55" width="2.45" height="6.98" fill="rgb(36,35,7)"/>
<rect x="221.23" y="147.55" width="2.45" height="6.98" fill="rgb(36,35,7)"/>
<rect x="321.23" y="147.55" width="2.45" height="6.98" fill="rgb(36,35,7)"/>
<rect x="421.23" y="147.55" width="2.45" height="6.98" fill="rgb(36,35,7)"/>
<rect x="429.23" y="147.55" width="2.45" height="6.98" fill="rgb(36,35,7)"/>
<rect x="437.23" y="147.55" width="2.45" height="6.98" fill="rgb(36,35,7)"/>
<rect x="449.23" y="147.55" width="2.45" height="6.98" fill="rgb(36,35,7)"/>
<rect x="453.23" y="147.55" width="2.45" height="6.98" fill="rgb(56,55,11)"/>
<rect x="461.23" y="147.55" width="2.45" height="6.98" fill="rgb(56,55,11)"/>
<rect x="465.23" y="147.55" width="2.45" height="6.98" fill="rgb(56,55,11)"/>
<rect x="85.23" y="155.72" width="2.45" height="6.98" fill="rgb(36,35,7)"/>
<rect x="233.23" y="155.72" width="2.45" height="6.98" fill="rgb(36,35,7)"/>
<rect x="261.23" y="155.72" width="2.45" height="6.98" fill="rgb(82,80,16)"/>
<rect x="341.23" y="155.72" width="2.45" height="6.98" fill="rgb(36,35,7)"/>
<rect x="385.23" y="155.72" width="2.45" height="6.98" fill="rgb(36,35,7)"/>
<rect x="85.23" y="163.90" width="2.45" height="6.98" fill="rgb(115,112,22)"/>
<rect x="89.23" y="163.90" width="2.45" height="6.98" fill="rgb(115,112,22)"/>
<rect x="141.23" y="163.90" width="2.45" height="6.98" fill="rgb(115,112,22)"/>
<rect x="185.23" y="163.90" width="2.45" height="6.98" fill="rgb(158,154,30)"/>
<rect x="257.23" y="163.90" width="2.45" height="6.98" fill="rgb(115,112,22)"/>
<rect x="277.23" y="163.90" width="2.45" height="6.98" fill="rgb(158,154,30)"/>
<rect x="281.23" y="163.90" width="2.45" height="6.98" fill="rgb(158,154,30)"/>
<rect x="293.23" y="163.90" width="2.45" height="6.98" fill="rgb(158,154,30)"/>
<rect x="297.23" y="163.90" width="2.45" height="6.98" fill="rgb(158,154,30)"/>
<rect x="381.23" y="163.90" width="2.45" height="6.98" fill="rgb(56,55,11)"/>
<rect x="389.23" y="163.90" width="2.45" height="6.98" fill="rgb(82,80,16)"/>
<rect x="429.23" y="163.90" width="2.45" height="6.98" fill="rgb(205,200,39)"/>
<rect x="437.23" y="163.90" width="2.45" height="6.98" fill="rgb(82,80,16)"/>
<rect x="65.23" y="188.43" width="2.45" height="6.98" fill="rgb(56,55,11)"/>
<rect x="85.23" y="188.43" width="2.45" height="6.98" fill="rgb(56,55,11)"/>
<rect x="89.23" y="188.43" width="2.45" height="6.98" fill="rgb(56,55,11)"/>
<rect x="97.23" y="188.43" width="2.45" height="6.98" fill="rgb(56,55,11)"/>
<rect x="117.23" y="188.43" width="2.45" height="6.98" fill="rgb(56,55,11)"/>
<rect x="137.23" y="188.43" width="2.45" height="6.98" fill="rgb(56,55,11)"/>
<rect x="161.23" y="188.43" width="2.45" height="6.98" fill="rgb(56,55,11)"/>
<rect x="185.23" y="188.43" width="2.45" height="6.98" fill="rgb(56,55,11)"/>
<rect x="229.23" y="188.43" width="2.45" height="6.98" fill="rgb(56,55,11)"/>
<rect x="237.23" y="188.43" width="2.45" height="6.98" fill="rgb(56,55,11)"/>
<rect x="245.23" y="188.43" width="2.45" height="6.98" fill="rgb(56,55,11)"/>
<rect x="257.23" y="188.43" width="2.45" height="6.98" fill="rgb(56,55,11)"/>
<rect x="277.23" y="188.43" width="2.45" height="6.98" fill="rgb(56,55,11)"/>
<rect x="281.23" y="188.43" width="2.45" height="6.98" fill="rgb(56,55,11)"/>
<rect x="301.23" y="188.43" width="2.45" height="6.98" fill="rgb(56,55,11)"/>
<rect x="309.23" y="188.43" width="2.45" height="6.98" fill="rgb(56,55,11)"/>
<rect x="429.23" y="188.43" width="2.45" height="6.98" fill="rgb(56,55,11)"/>
<rect x="437.23" y="188.43" width="2.45" height="6.98" fill="rgb(56,55,11)"/>
<rect x="449.23" y="188.43" width="2.45" height="6.98" fill="rgb(56,55,11)"/>
<rect x="45.5" y="32.40" width="6.8" height="1" fill="#2a2a2a"/>
<rect x="45.5" y="40.58" width="6.8" height="1" fill="#2a2a2a"/>
<rect x="45.5" y="48.75" width="6.8" height="1" fill="#2a2a2a"/>
<rect x="45.5" y="56.92" width="6.8" height="1" fill="#2a2a2a"/>
<rect x="45.5" y="65.10" width="6.8" height="1" fill="#2a2a2a"/>
<rect x="45.5" y="73.28" width="6.8" height="1" fill="#2a2a2a"/>
<rect x="45.5" y="81.45" width="6.8" height="1" fill="#2a2a2a"/>
<rect x="45.5" y="89.62" width="6.8" height="1" fill="#2a2a2a"/>
<rect x="45.5" y="97.80" width="6.8" height="1" fill="#2a2a2a"/>
<rect x="45.5" y="105.97" width="6.8" height="1" fill="#2a2a2a"/>
<rect x="45.5" y="114.15" width="6.8" height="1" fill="#2a2a2a"/>
<rect x="45.5" y="122.33" width="6.8" height="1" fill="#2a2a2a"/>
<rect x="45.5" y="130.50" width="6.8" height="1" fill="#2a2a2a"/>
<rect x="45.5" y="138.68" width="6.8" height="1" fill="#2a2a2a"/>
<rect x="45.5" y="146.85" width="6.8" height="1" fill="#2a2a2a"/>
<rect x="45.5" y="155.03" width="6.8" height="1" fill="#2a2a2a"/>
<rect x="45.5" y="163.20" width="6.8" height="1" fill="#2a2a2a"/>
<rect x="45.5" y="171.38" width="6.8" height="1" fill="#2a2a2a"/>
<rect x="45.5" y="179.55" width="6.8" height="1" fill="#2a2a2a"/>
<rect x="45.5" y="187.73" width="6.8" height="1" fill="#2a2a2a"/>
<rect x="45.5" y="195.90" width="6.8" height="1" fill="#2a2a2a"/>
<text x="41.06" y="39.89" font-size="8.4" text-anchor="end" fill="#231f20" class="r" textLength="14.29" lengthAdjust="spacingAndGlyphs">cKIT</text>
<text x="40.94" y="48.06" font-size="8.4" text-anchor="end" fill="#231f20" class="r" textLength="19.89" lengthAdjust="spacingAndGlyphs">DDR1</text>
<text x="41.95" y="56.24" font-size="8.4" text-anchor="end" fill="#231f20" class="r" textLength="18.30" lengthAdjust="spacingAndGlyphs">EGFR</text>
<text x="41.27" y="64.41" font-size="8.4" text-anchor="end" fill="#231f20" class="r" textLength="22.40" lengthAdjust="spacingAndGlyphs">EPHB4</text>
<text x="41.47" y="72.59" font-size="8.4" text-anchor="end" fill="#231f20" class="r" textLength="22.89" lengthAdjust="spacingAndGlyphs">EPHB6</text>
<text x="42.00" y="80.76" font-size="8.4" text-anchor="end" fill="#231f20" class="r" textLength="22.59" lengthAdjust="spacingAndGlyphs">ERBB2</text>
<text x="41.35" y="88.94" font-size="8.4" text-anchor="end" fill="#231f20" class="r" textLength="21.91" lengthAdjust="spacingAndGlyphs">ERBB3</text>
<text x="41.54" y="97.11" font-size="8.4" text-anchor="end" fill="#231f20" class="r" textLength="22.11" lengthAdjust="spacingAndGlyphs">ERBB4</text>
<text x="40.49" y="105.29" font-size="8.4" text-anchor="end" fill="#231f20" class="r" textLength="14.83" lengthAdjust="spacingAndGlyphs">FLT1</text>
<text x="40.99" y="113.46" font-size="8.4" text-anchor="end" fill="#231f20" class="r" textLength="15.38" lengthAdjust="spacingAndGlyphs">FLT3</text>
<text x="41.48" y="121.64" font-size="8.4" text-anchor="end" fill="#231f20" class="r" textLength="15.89" lengthAdjust="spacingAndGlyphs">FLT4</text>
<text x="41.87" y="129.81" font-size="8.4" text-anchor="end" fill="#231f20" class="r" textLength="22.65" lengthAdjust="spacingAndGlyphs">IGF1R</text>
<text x="41.32" y="137.99" font-size="8.4" text-anchor="end" fill="#231f20" class="r" textLength="23.46" lengthAdjust="spacingAndGlyphs">MERTK</text>
<text x="41.49" y="146.16" font-size="8.4" text-anchor="end" fill="#231f20" class="r" textLength="15.15" lengthAdjust="spacingAndGlyphs">MET</text>
<text x="41.44" y="154.34" font-size="8.4" text-anchor="end" fill="#231f20" class="r" textLength="27.80" lengthAdjust="spacingAndGlyphs">PDGFRB</text>
<text x="41.42" y="162.51" font-size="8.4" text-anchor="end" fill="#231f20" class="r" textLength="13.00" lengthAdjust="spacingAndGlyphs">RET</text>
<text x="41.42" y="170.69" font-size="8.4" text-anchor="end" fill="#231f20" class="r" textLength="17.75" lengthAdjust="spacingAndGlyphs">TRKA</text>
<text x="41.61" y="178.86" font-size="8.4" text-anchor="end" fill="#231f20" class="r" textLength="17.55" lengthAdjust="spacingAndGlyphs">TRKB</text>
<text x="41.22" y="187.04" font-size="8.4" text-anchor="end" fill="#231f20" class="r" textLength="17.35" lengthAdjust="spacingAndGlyphs">TRKC</text>
<text x="41.48" y="195.21" font-size="8.4" text-anchor="end" fill="#231f20" class="r" textLength="23.05" lengthAdjust="spacingAndGlyphs">TYRO3</text>
<text x="268.15" y="27.5" font-size="7.6" class="g" text-anchor="middle" fill="#231f20" textLength="41.40" lengthAdjust="spacingAndGlyphs">primary ALL</text>
<text x="7.8" y="17.1" font-size="11.4" fill="#231f20" class="p" transform="translate(7.8 0) scale(0.84 1) translate(-7.8 0)">A</text>
<text x="7.4" y="263.0" font-size="11.4" fill="#231f20" class="p" transform="translate(7.4 0) scale(0.84 1) translate(-7.4 0)">B</text>
<text x="55.60" y="198.6" class="s" font-size="3.5" letter-spacing="0.55" fill="#111" text-anchor="end" transform="rotate(-90 55.60 198.6)">1</text>
<text x="59.60" y="198.6" class="s" font-size="3.5" letter-spacing="0.55" fill="#111" text-anchor="end" transform="rotate(-90 59.60 198.6)">2</text>
<text x="63.60" y="198.6" class="s" font-size="3.5" letter-spacing="0.55" fill="#111" text-anchor="end" transform="rotate(-90 63.60 198.6)">24</text>
<text x="67.60" y="198.6" class="s" font-size="3.5" letter-spacing="0.55" fill="#111" text-anchor="end" transform="rotate(-90 67.60 198.6)">31</text>
<text x="71.60" y="198.6" class="s" font-size="3.5" letter-spacing="0.55" fill="#111" text-anchor="end" transform="rotate(-90 71.60 198.6)">38</text>
<text x="75.60" y="198.6" class="s" font-size="3.5" letter-spacing="0.55" fill="#111" text-anchor="end" transform="rotate(-90 75.60 198.6)">45</text>
<text x="79.60" y="198.6" class="s" font-size="3.5" letter-spacing="0.55" fill="#111" text-anchor="end" transform="rotate(-90 79.60 198.6)">52</text>
<text x="83.60" y="198.6" class="s" font-size="3.5" letter-spacing="0.55" fill="#111" text-anchor="end" transform="rotate(-90 83.60 198.6)">59</text>
<text x="87.60" y="198.6" class="s" font-size="3.5" letter-spacing="0.55" fill="#111" text-anchor="end" transform="rotate(-90 87.60 198.6)">66</text>
<text x="91.60" y="198.6" class="s" font-size="3.5" letter-spacing="0.55" fill="#111" text-anchor="end" transform="rotate(-90 91.60 198.6)">73</text>
<text x="95.60" y="198.6" class="s" font-size="3.5" letter-spacing="0.55" fill="#111" text-anchor="end" transform="rotate(-90 95.60 198.6)">80</text>
<text x="99.60" y="198.6" class="s" font-size="3.5" letter-spacing="0.55" fill="#111" text-anchor="end" transform="rotate(-90 99.60 198.6)">87</text>
<text x="103.60" y="198.6" class="s" font-size="3.5" letter-spacing="0.55" fill="#111" text-anchor="end" transform="rotate(-90 103.60 198.6)">94</text>
<text x="107.60" y="198.6" class="s" font-size="3.5" letter-spacing="0.55" fill="#111" text-anchor="end" transform="rotate(-90 107.60 198.6)">11</text>
<text x="111.60" y="198.6" class="s" font-size="3.5" letter-spacing="0.55" fill="#111" text-anchor="end" transform="rotate(-90 111.60 198.6)">18</text>
<text x="115.60" y="198.6" class="s" font-size="3.5" letter-spacing="0.55" fill="#111" text-anchor="end" transform="rotate(-90 115.60 198.6)">25</text>
<text x="119.60" y="198.6" class="s" font-size="3.5" letter-spacing="0.55" fill="#111" text-anchor="end" transform="rotate(-90 119.60 198.6)">32</text>
<text x="123.60" y="198.6" class="s" font-size="3.5" letter-spacing="0.55" fill="#111" text-anchor="end" transform="rotate(-90 123.60 198.6)">39</text>
<text x="127.60" y="198.6" class="s" font-size="3.5" letter-spacing="0.55" fill="#111" text-anchor="end" transform="rotate(-90 127.60 198.6)">46</text>
<text x="131.60" y="198.6" class="s" font-size="3.5" letter-spacing="0.55" fill="#111" text-anchor="end" transform="rotate(-90 131.60 198.6)">53</text>
<text x="135.60" y="198.6" class="s" font-size="3.5" letter-spacing="0.55" fill="#111" text-anchor="end" transform="rotate(-90 135.60 198.6)">60</text>
<text x="139.60" y="198.6" class="s" font-size="3.5" letter-spacing="0.55" fill="#111" text-anchor="end" transform="rotate(-90 139.60 198.6)">67</text>
<text x="143.60" y="198.6" class="s" font-size="3.5" letter-spacing="0.55" fill="#111" text-anchor="end" transform="rotate(-90 143.60 198.6)">74</text>
<text x="147.60" y="198.6" class="s" font-size="3.5" letter-spacing="0.55" fill="#111" text-anchor="end" transform="rotate(-90 147.60 198.6)">81</text>
<text x="151.60" y="198.6" class="s" font-size="3.5" letter-spacing="0.55" fill="#111" text-anchor="end" transform="rotate(-90 151.60 198.6)">88</text>
<text x="155.60" y="198.6" class="s" font-size="3.5" letter-spacing="0.55" fill="#111" text-anchor="end" transform="rotate(-90 155.60 198.6)">225</text>
<text x="159.60" y="198.6" class="s" font-size="3.5" letter-spacing="0.55" fill="#111" text-anchor="end" transform="rotate(-90 159.60 198.6)">238</text>
<text x="163.60" y="198.6" class="s" font-size="3.5" letter-spacing="0.55" fill="#111" text-anchor="end" transform="rotate(-90 163.60 198.6)">251</text>
<text x="167.60" y="198.6" class="s" font-size="3.5" letter-spacing="0.55" fill="#111" text-anchor="end" transform="rotate(-90 167.60 198.6)">264</text>
<text x="171.60" y="198.6" class="s" font-size="3.5" letter-spacing="0.55" fill="#111" text-anchor="end" transform="rotate(-90 171.60 198.6)">3</text>
<text x="175.60" y="198.6" class="s" font-size="3.5" letter-spacing="0.55" fill="#111" text-anchor="end" transform="rotate(-90 175.60 198.6)">40</text>
<text x="179.60" y="198.6" class="s" font-size="3.5" letter-spacing="0.55" fill="#111" text-anchor="end" transform="rotate(-90 179.60 198.6)">47</text>
<text x="183.60" y="198.6" class="s" font-size="3.5" letter-spacing="0.55" fill="#111" text-anchor="end" transform="rotate(-90 183.60 198.6)">54</text>
<text x="187.60" y="198.6" class="s" font-size="3.5" letter-spacing="0.55" fill="#111" text-anchor="end" transform="rotate(-90 187.60 198.6)">61</text>
<text x="191.60" y="198.6" class="s" font-size="3.5" letter-spacing="0.55" fill="#111" text-anchor="end" transform="rotate(-90 191.60 198.6)">68</text>
<text x="195.60" y="198.6" class="s" font-size="3.5" letter-spacing="0.55" fill="#111" text-anchor="end" transform="rotate(-90 195.60 198.6)">75</text>
<text x="199.60" y="198.6" class="s" font-size="3.5" letter-spacing="0.55" fill="#111" text-anchor="end" transform="rotate(-90 199.60 198.6)">82</text>
<text x="203.60" y="198.6" class="s" font-size="3.5" letter-spacing="0.55" fill="#111" text-anchor="end" transform="rotate(-90 203.60 198.6)">89</text>
<text x="207.60" y="198.6" class="s" font-size="3.5" letter-spacing="0.55" fill="#111" text-anchor="end" transform="rotate(-90 207.60 198.6)">96</text>
<text x="211.60" y="198.6" class="s" font-size="3.5" letter-spacing="0.55" fill="#111" text-anchor="end" transform="rotate(-90 211.60 198.6)">13</text>
<text x="215.60" y="198.6" class="s" font-size="3.5" letter-spacing="0.55" fill="#111" text-anchor="end" transform="rotate(-90 215.60 198.6)">20</text>
<text x="219.60" y="198.6" class="s" font-size="3.5" letter-spacing="0.55" fill="#111" text-anchor="end" transform="rotate(-90 219.60 198.6)">27</text>
<text x="223.60" y="198.6" class="s" font-size="3.5" letter-spacing="0.55" fill="#111" text-anchor="end" transform="rotate(-90 223.60 198.6)">7</text>
<text x="227.60" y="198.6" class="s" font-size="3.5" letter-spacing="0.55" fill="#111" text-anchor="end" transform="rotate(-90 227.60 198.6)">8</text>
<text x="231.60" y="198.6" class="s" font-size="3.5" letter-spacing="0.55" fill="#111" text-anchor="end" transform="rotate(-90 231.60 198.6)">48</text>
<text x="235.60" y="198.6" class="s" font-size="3.5" letter-spacing="0.55" fill="#111" text-anchor="end" transform="rotate(-90 235.60 198.6)">55</text>
<text x="239.60" y="198.6" class="s" font-size="3.5" letter-spacing="0.55" fill="#111" text-anchor="end" transform="rotate(-90 239.60 198.6)">62</text>
<text x="243.60" y="198.6" class="s" font-size="3.5" letter-spacing="0.55" fill="#111" text-anchor="end" transform="rotate(-90 243.60 198.6)">69</text>
<text x="247.60" y="198.6" class="s" font-size="3.5" letter-spacing="0.55" fill="#111" text-anchor="end" transform="rotate(-90 247.60 198.6)">76</text>
<text x="251.60" y="198.6" class="s" font-size="3.5" letter-spacing="0.55" fill="#111" text-anchor="end" transform="rotate(-90 251.60 198.6)">83</text>
<text x="255.60" y="198.6" class="s" font-size="3.5" letter-spacing="0.55" fill="#111" text-anchor="end" transform="rotate(-90 255.60 198.6)">90</text>
<text x="259.60" y="198.6" class="s" font-size="3.5" letter-spacing="0.55" fill="#111" text-anchor="end" transform="rotate(-90 259.60 198.6)">97</text>
<text x="263.60" y="198.6" class="s" font-size="3.5" letter-spacing="0.55" fill="#111" text-anchor="end" transform="rotate(-90 263.60 198.6)">14</text>
<text x="267.60" y="198.6" class="s" font-size="3.5" letter-spacing="0.55" fill="#111" text-anchor="end" transform="rotate(-90 267.60 198.6)">21</text>
<text x="271.60" y="198.6" class="s" font-size="3.5" letter-spacing="0.55" fill="#111" text-anchor="end" transform="rotate(-90 271.60 198.6)">28</text>
<text x="275.60" y="198.6" class="s" font-size="3.5" letter-spacing="0.55" fill="#111" text-anchor="end" transform="rotate(-90 275.60 198.6)">35</text>
<text x="279.60" y="198.6" class="s" font-size="3.5" letter-spacing="0.55" fill="#111" text-anchor="end" transform="rotate(-90 279.60 198.6)">42</text>
<text x="283.60" y="198.6" class="s" font-size="3.5" letter-spacing="0.55" fill="#111" text-anchor="end" transform="rotate(-90 283.60 198.6)">49</text>
<text x="287.60" y="198.6" class="s" font-size="3.5" letter-spacing="0.55" fill="#111" text-anchor="end" transform="rotate(-90 287.60 198.6)">56</text>
<text x="291.60" y="198.6" class="s" font-size="3.5" letter-spacing="0.55" fill="#111" text-anchor="end" transform="rotate(-90 291.60 198.6)">63</text>
<text x="295.60" y="198.6" class="s" font-size="3.5" letter-spacing="0.55" fill="#111" text-anchor="end" transform="rotate(-90 295.60 198.6)">70</text>
<text x="299.60" y="198.6" class="s" font-size="3.5" letter-spacing="0.55" fill="#111" text-anchor="end" transform="rotate(-90 299.60 198.6)">293</text>
<text x="303.60" y="198.6" class="s" font-size="3.5" letter-spacing="0.55" fill="#111" text-anchor="end" transform="rotate(-90 303.60 198.6)">9</text>
<text x="307.60" y="198.6" class="s" font-size="3.5" letter-spacing="0.55" fill="#111" text-anchor="end" transform="rotate(-90 307.60 198.6)">91</text>
<text x="311.60" y="198.6" class="s" font-size="3.5" letter-spacing="0.55" fill="#111" text-anchor="end" transform="rotate(-90 311.60 198.6)">98</text>
<text x="315.60" y="198.6" class="s" font-size="3.5" letter-spacing="0.55" fill="#111" text-anchor="end" transform="rotate(-90 315.60 198.6)">15</text>
<text x="319.60" y="198.6" class="s" font-size="3.5" letter-spacing="0.55" fill="#111" text-anchor="end" transform="rotate(-90 319.60 198.6)">22</text>
<text x="323.60" y="198.6" class="s" font-size="3.5" letter-spacing="0.55" fill="#111" text-anchor="end" transform="rotate(-90 323.60 198.6)">29</text>
<text x="327.60" y="198.6" class="s" font-size="3.5" letter-spacing="0.55" fill="#111" text-anchor="end" transform="rotate(-90 327.60 198.6)">36</text>
<text x="331.60" y="198.6" class="s" font-size="3.5" letter-spacing="0.55" fill="#111" text-anchor="end" transform="rotate(-90 331.60 198.6)">43</text>
<text x="335.60" y="198.6" class="s" font-size="3.5" letter-spacing="0.55" fill="#111" text-anchor="end" transform="rotate(-90 335.60 198.6)">50</text>
<text x="339.60" y="198.6" class="s" font-size="3.5" letter-spacing="0.55" fill="#111" text-anchor="end" transform="rotate(-90 339.60 198.6)">57</text>
<text x="343.60" y="198.6" class="s" font-size="3.5" letter-spacing="0.55" fill="#111" text-anchor="end" transform="rotate(-90 343.60 198.6)">64</text>
<text x="347.60" y="198.6" class="s" font-size="3.5" letter-spacing="0.55" fill="#111" text-anchor="end" transform="rotate(-90 347.60 198.6)">71</text>
<text x="351.60" y="198.6" class="s" font-size="3.5" letter-spacing="0.55" fill="#111" text-anchor="end" transform="rotate(-90 351.60 198.6)">78</text>
<text x="355.60" y="198.6" class="s" font-size="3.5" letter-spacing="0.55" fill="#111" text-anchor="end" transform="rotate(-90 355.60 198.6)">85</text>
<text x="359.60" y="198.6" class="s" font-size="3.5" letter-spacing="0.55" fill="#111" text-anchor="end" transform="rotate(-90 359.60 198.6)">92</text>
<text x="363.60" y="198.6" class="s" font-size="3.5" letter-spacing="0.55" fill="#111" text-anchor="end" transform="rotate(-90 363.60 198.6)">99</text>
<text x="367.60" y="198.6" class="s" font-size="3.5" letter-spacing="0.55" fill="#111" text-anchor="end" transform="rotate(-90 367.60 198.6)">16</text>
<text x="371.60" y="198.6" class="s" font-size="3.5" letter-spacing="0.55" fill="#111" text-anchor="end" transform="rotate(-90 371.60 198.6)">23</text>
<text x="375.60" y="198.6" class="s" font-size="3.5" letter-spacing="0.55" fill="#111" text-anchor="end" transform="rotate(-90 375.60 198.6)">30</text>
<text x="379.60" y="198.6" class="s" font-size="3.5" letter-spacing="0.55" fill="#111" text-anchor="end" transform="rotate(-90 379.60 198.6)">37</text>
<text x="383.60" y="198.6" class="s" font-size="3.5" letter-spacing="0.55" fill="#111" text-anchor="end" transform="rotate(-90 383.60 198.6)">44</text>
<text x="387.60" y="198.6" class="s" font-size="3.5" letter-spacing="0.55" fill="#111" text-anchor="end" transform="rotate(-90 387.60 198.6)">51</text>
<text x="391.60" y="198.6" class="s" font-size="3.5" letter-spacing="0.55" fill="#111" text-anchor="end" transform="rotate(-90 391.60 198.6)">58</text>
<text x="395.60" y="198.6" class="s" font-size="3.5" letter-spacing="0.55" fill="#111" text-anchor="end" transform="rotate(-90 395.60 198.6)">65</text>
<text x="399.60" y="198.6" class="s" font-size="3.5" letter-spacing="0.55" fill="#111" text-anchor="end" transform="rotate(-90 399.60 198.6)">72</text>
<text x="403.60" y="198.6" class="s" font-size="3.5" letter-spacing="0.55" fill="#111" text-anchor="end" transform="rotate(-90 403.60 198.6)">79</text>
<text x="407.60" y="198.6" class="s" font-size="3.5" letter-spacing="0.55" fill="#111" text-anchor="end" transform="rotate(-90 407.60 198.6)">86</text>
<text x="411.60" y="198.6" class="s" font-size="3.5" letter-spacing="0.55" fill="#111" text-anchor="end" transform="rotate(-90 411.60 198.6)">93</text>
<text x="415.60" y="198.6" class="s" font-size="3.5" letter-spacing="0.55" fill="#111" text-anchor="end" transform="rotate(-90 415.60 198.6)">270</text>
<text x="419.60" y="198.6" class="s" font-size="3.5" letter-spacing="0.55" fill="#111" text-anchor="end" transform="rotate(-90 419.60 198.6)">2</text>
<text x="423.60" y="198.6" class="s" font-size="3.5" letter-spacing="0.55" fill="#111" text-anchor="end" transform="rotate(-90 423.60 198.6)">24</text>
<text x="427.60" y="198.6" class="s" font-size="3.5" letter-spacing="0.55" fill="#111" text-anchor="end" transform="rotate(-90 427.60 198.6)">31</text>
<text x="431.60" y="198.6" class="s" font-size="3.5" letter-spacing="0.55" fill="#111" text-anchor="end" transform="rotate(-90 431.60 198.6)">38</text>
<text x="435.60" y="198.6" class="s" font-size="3.5" letter-spacing="0.55" fill="#111" text-anchor="end" transform="rotate(-90 435.60 198.6)">45</text>
<text x="439.60" y="198.6" class="s" font-size="3.5" letter-spacing="0.55" fill="#111" text-anchor="end" transform="rotate(-90 439.60 198.6)">52</text>
<text x="443.60" y="198.6" class="s" font-size="3.5" letter-spacing="0.55" fill="#111" text-anchor="end" transform="rotate(-90 443.60 198.6)">59</text>
<text x="447.60" y="198.6" class="s" font-size="3.5" letter-spacing="0.55" fill="#111" text-anchor="end" transform="rotate(-90 447.60 198.6)">66</text>
<text x="451.60" y="198.6" class="s" font-size="3.5" letter-spacing="0.55" fill="#111" text-anchor="end" transform="rotate(-90 451.60 198.6)">187</text>
<text x="455.60" y="198.6" class="s" font-size="3.5" letter-spacing="0.55" fill="#111" text-anchor="end" transform="rotate(-90 455.60 198.6)">2</text>
<text x="459.60" y="198.6" class="s" font-size="3.5" letter-spacing="0.55" fill="#111" text-anchor="end" transform="rotate(-90 459.60 198.6)">87</text>
<text x="463.60" y="198.6" class="s" font-size="3.5" letter-spacing="0.55" fill="#111" text-anchor="end" transform="rotate(-90 463.60 198.6)">94</text>
<text x="467.60" y="198.6" class="s" font-size="3.5" letter-spacing="0.55" fill="#111" text-anchor="end" transform="rotate(-90 467.60 198.6)">11</text>
<defs><linearGradient id="gA" x1="0" y1="0" x2="0" y2="1"><stop offset="0" stop-color="#fdf82a"/><stop offset="0.5" stop-color="#8a8420"/><stop offset="1" stop-color="#000"/></linearGradient></defs>
<rect x="484" y="83.7" width="8.2" height="36.3" fill="url(#gA)"/>
<text x="494.3" y="86.8" font-size="7.5" class="t" fill="#231f20" textLength="15.9" lengthAdjust="spacingAndGlyphs">1500</text>
<text x="494.0" y="121.6" font-size="7.4" class="t" fill="#231f20">0</text>
<text x="-9.75" y="0" font-size="7.2" fill="#231f20" class="m" textLength="19.5" lengthAdjust="spacingAndGlyphs" transform="translate(478.2 101.2) rotate(-90)">fg/µg</text>
<rect x="52.20" y="209.9" width="116.60" height="9.8" fill="#c83c30"/>
<rect x="168.80" y="209.9" width="52.00" height="9.8" fill="#f5d733"/>
<rect x="220.80" y="209.9" width="80.00" height="9.8" fill="#b380b7"/>
<rect x="300.80" y="209.9" width="16.00" height="9.8" fill="#de8a22"/>
<rect x="316.80" y="209.9" width="112.00" height="9.8" fill="#5c9538"/>
<rect x="428.80" y="209.9" width="24.00" height="9.8" fill="#4f84c4"/>
<rect x="452.80" y="209.9" width="16.40" height="9.8" fill="#a3b5df"/>
<rect x="52.60" y="210.3" width="115.80" height="9.0" fill="none" stroke="#bd2519" stroke-width="0.8"/>
<rect x="169.20" y="210.3" width="51.20" height="9.0" fill="none" stroke="#fbe61a" stroke-width="0.8"/>
<rect x="221.20" y="210.3" width="79.20" height="9.0" fill="none" stroke="#a972ae" stroke-width="0.8"/>
<rect x="301.20" y="210.3" width="15.20" height="9.0" fill="none" stroke="#da7d10" stroke-width="0.8"/>
<rect x="317.20" y="210.3" width="111.20" height="9.0" fill="none" stroke="#528f2c" stroke-width="0.8"/>
<rect x="429.20" y="210.3" width="23.20" height="9.0" fill="none" stroke="#4479c0" stroke-width="0.8"/>
<rect x="453.20" y="210.3" width="15.60" height="9.0" fill="none" stroke="#98abdc" stroke-width="0.8"/>
<text x="110.53" y="229.5" font-size="8" class="g" text-anchor="middle" fill="#231f20" textLength="16.27" lengthAdjust="spacingAndGlyphs">cALL</text>
<text x="194.76" y="229.5" font-size="8" class="g" text-anchor="middle" fill="#231f20" textLength="16.48" lengthAdjust="spacingAndGlyphs">preB</text>
<text x="261.05" y="229.5" font-size="8" class="g" text-anchor="middle" fill="#231f20" textLength="16.65" lengthAdjust="spacingAndGlyphs">cALL</text>
<text x="308.83" y="229.5" font-size="8" class="g" text-anchor="middle" fill="#231f20" textLength="16.19" lengthAdjust="spacingAndGlyphs">preB</text>
<text x="372.44" y="229.5" font-size="8" class="g" text-anchor="middle" fill="#231f20" textLength="20.53" lengthAdjust="spacingAndGlyphs">T-ALL</text>
<text x="441.33" y="229.5" font-size="8" class="g" text-anchor="middle" fill="#231f20" textLength="16.51" lengthAdjust="spacingAndGlyphs">proB</text>
<text x="461.21" y="229.5" font-size="8" class="g" text-anchor="middle" fill="#231f20" textLength="16.56" lengthAdjust="spacingAndGlyphs">proB</text>
<rect x="221" y="234.0" width="96.2" height="1" fill="#231f20"/>
<rect x="453.1" y="234.3" width="16.2" height="1" fill="#231f20"/>
<text x="268.92" y="244.6" font-size="7.9" class="g" text-anchor="middle" fill="#231f20" textLength="43.93" lengthAdjust="spacingAndGlyphs">ETV6-RUNX1</text>
<text x="461.41" y="244.6" font-size="7.9" class="g" text-anchor="middle" fill="#231f20" textLength="40.26" lengthAdjust="spacingAndGlyphs">KMT2A-AF4</text>
<rect x="50.9" y="274.4" width="292.50" height="22.20" fill="#000"/>
<rect x="103.30" y="274.80" width="5.70" height="6.60" fill="#c0b93a"/>
<rect x="122.80" y="274.80" width="5.70" height="6.60" fill="#353211"/>
<rect x="129.30" y="274.80" width="5.70" height="6.60" fill="#716d24"/>
<rect x="135.80" y="274.80" width="5.70" height="6.60" fill="#1e1c08"/>
<rect x="142.30" y="274.80" width="5.70" height="6.60" fill="#4f4b19"/>
<rect x="148.80" y="274.80" width="5.70" height="6.60" fill="#353211"/>
<rect x="155.30" y="274.80" width="5.70" height="6.60" fill="#716d24"/>
<rect x="161.80" y="274.80" width="5.70" height="6.60" fill="#716d24"/>
<rect x="168.30" y="274.80" width="5.70" height="6.60" fill="#353211"/>
<rect x="174.80" y="274.80" width="5.70" height="6.60" fill="#1e1c08"/>
<rect x="194.30" y="274.80" width="5.70" height="6.60" fill="#4f4b19"/>
<rect x="200.80" y="274.80" width="5.70" height="6.60" fill="#4f4b19"/>
<rect x="213.80" y="274.80" width="5.70" height="6.60" fill="#716d24"/>
<rect x="220.30" y="274.80" width="5.70" height="6.60" fill="#1e1c08"/>
<rect x="226.80" y="274.80" width="5.70" height="6.60" fill="#4f4b19"/>
<rect x="233.30" y="274.80" width="5.70" height="6.60" fill="#353211"/>
<rect x="252.80" y="274.80" width="5.70" height="6.60" fill="#353211"/>
<rect x="265.80" y="274.80" width="5.70" height="6.60" fill="#353211"/>
<rect x="285.30" y="274.80" width="5.70" height="6.60" fill="#4f4b19"/>
<rect x="317.80" y="274.80" width="5.70" height="6.60" fill="#4f4b19"/>
<rect x="324.30" y="274.80" width="5.70" height="6.60" fill="#353211"/>
<rect x="330.80" y="274.80" width="5.70" height="6.60" fill="#1e1c08"/>
<rect x="337.30" y="274.80" width="5.70" height="6.60" fill="#a8a132"/>
<rect x="77.30" y="282.20" width="5.70" height="6.60" fill="#4f4b19"/>
<rect x="135.80" y="282.20" width="5.70" height="6.60" fill="#4f4b19"/>
<rect x="142.30" y="282.20" width="5.70" height="6.60" fill="#4f4b19"/>
<rect x="148.80" y="282.20" width="5.70" height="6.60" fill="#a8a132"/>
<rect x="155.30" y="282.20" width="5.70" height="6.60" fill="#353211"/>
<rect x="161.80" y="282.20" width="5.70" height="6.60" fill="#716d24"/>
<rect x="168.30" y="282.20" width="5.70" height="6.60" fill="#1e1c08"/>
<rect x="200.80" y="282.20" width="5.70" height="6.60" fill="#4f4b19"/>
<rect x="207.30" y="282.20" width="5.70" height="6.60" fill="#716d24"/>
<rect x="213.80" y="282.20" width="5.70" height="6.60" fill="#716d24"/>
<rect x="265.80" y="282.20" width="5.70" height="6.60" fill="#4f4b19"/>
<rect x="272.30" y="282.20" width="5.70" height="6.60" fill="#4f4b19"/>
<rect x="285.30" y="282.20" width="5.70" height="6.60" fill="#353211"/>
<rect x="317.80" y="282.20" width="5.70" height="6.60" fill="#4f4b19"/>
<rect x="324.30" y="282.20" width="5.70" height="6.60" fill="#c0b93a"/>
<rect x="330.80" y="282.20" width="5.70" height="6.60" fill="#a8a132"/>
<rect x="337.30" y="282.20" width="5.70" height="6.60" fill="#353211"/>
<rect x="51.30" y="289.60" width="5.70" height="6.60" fill="#353211"/>
<rect x="70.80" y="289.60" width="5.70" height="6.60" fill="#353211"/>
<rect x="103.30" y="289.60" width="5.70" height="6.60" fill="#353211"/>
<rect x="122.80" y="289.60" width="5.70" height="6.60" fill="#4f4b19"/>
<rect x="129.30" y="289.60" width="5.70" height="6.60" fill="#4f4b19"/>
<rect x="135.80" y="289.60" width="5.70" height="6.60" fill="#1e1c08"/>
<rect x="142.30" y="289.60" width="5.70" height="6.60" fill="#c0b93a"/>
<rect x="148.80" y="289.60" width="5.70" height="6.60" fill="#353211"/>
<rect x="155.30" y="289.60" width="5.70" height="6.60" fill="#716d24"/>
<rect x="161.80" y="289.60" width="5.70" height="6.60" fill="#4f4b19"/>
<rect x="168.30" y="289.60" width="5.70" height="6.60" fill="#353211"/>
<rect x="174.80" y="289.60" width="5.70" height="6.60" fill="#716d24"/>
<rect x="194.30" y="289.60" width="5.70" height="6.60" fill="#1e1c08"/>
<rect x="200.80" y="289.60" width="5.70" height="6.60" fill="#a8a132"/>
<rect x="213.80" y="289.60" width="5.70" height="6.60" fill="#c0b93a"/>
<rect x="220.30" y="289.60" width="5.70" height="6.60" fill="#1e1c08"/>
<rect x="226.80" y="289.60" width="5.70" height="6.60" fill="#716d24"/>
<rect x="233.30" y="289.60" width="5.70" height="6.60" fill="#4f4b19"/>
<rect x="265.80" y="289.60" width="5.70" height="6.60" fill="#4f4b19"/>
<rect x="278.80" y="289.60" width="5.70" height="6.60" fill="#1e1c08"/>
<rect x="285.30" y="289.60" width="5.70" height="6.60" fill="#716d24"/>
<rect x="298.30" y="289.60" width="5.70" height="6.60" fill="#4f4b19"/>
<rect x="317.80" y="289.60" width="5.70" height="6.60" fill="#353211"/>
<rect x="324.30" y="289.60" width="5.70" height="6.60" fill="#fdf52a"/>
<rect x="330.80" y="289.60" width="5.70" height="6.60" fill="#fdf52a"/>
<rect x="337.30" y="289.60" width="5.70" height="6.60" fill="#716d24"/>
<rect x="44.5" y="273.90" width="6.4" height="1" fill="#2a2a2a"/>
<rect x="44.5" y="281.30" width="6.4" height="1" fill="#2a2a2a"/>
<rect x="44.5" y="288.70" width="6.4" height="1" fill="#2a2a2a"/>
<rect x="44.5" y="296.10" width="6.4" height="1" fill="#2a2a2a"/>
<text x="41.47" y="281.30" font-size="8.4" text-anchor="end" fill="#231f20" class="r" textLength="15.56" lengthAdjust="spacingAndGlyphs">FLT3</text>
<text x="41.45" y="288.70" font-size="8.4" text-anchor="end" fill="#231f20" class="r" textLength="21.05" lengthAdjust="spacingAndGlyphs">IGF1R</text>
<text x="41.38" y="296.10" font-size="8.4" text-anchor="end" fill="#231f20" class="r" textLength="27.97" lengthAdjust="spacingAndGlyphs">PDGFRB</text>
<text x="55.45" y="300.0" class="m" font-size="6.2" fill="#231f20" text-anchor="end" transform="rotate(-90 55.45 300.0)">1</text>
<text x="61.95" y="300.0" class="m" font-size="6.2" fill="#231f20" text-anchor="end" transform="rotate(-90 61.95 300.0)">2</text>
<text x="68.45" y="300.0" class="m" font-size="6.2" fill="#231f20" text-anchor="end" transform="rotate(-90 68.45 300.0)">3</text>
<text x="74.95" y="300.0" class="m" font-size="6.2" fill="#231f20" text-anchor="end" transform="rotate(-90 74.95 300.0)">4</text>
<text x="81.45" y="300.0" class="m" font-size="6.2" fill="#231f20" text-anchor="end" transform="rotate(-90 81.45 300.0)">5</text>
<text x="87.95" y="300.0" class="m" font-size="6.2" fill="#231f20" text-anchor="end" transform="rotate(-90 87.95 300.0)">6</text>
<text x="94.45" y="300.0" class="m" font-size="6.2" fill="#231f20" text-anchor="end" transform="rotate(-90 94.45 300.0)">7</text>
<text x="100.95" y="300.0" class="m" font-size="6.2" fill="#231f20" text-anchor="end" transform="rotate(-90 100.95 300.0)">8</text>
<text x="107.45" y="300.0" class="m" font-size="6.2" fill="#231f20" text-anchor="end" transform="rotate(-90 107.45 300.0)">9</text>
<text x="113.95" y="300.0" class="m" font-size="6.2" fill="#231f20" text-anchor="end" transform="rotate(-90 113.95 300.0)">11</text>
<text x="120.45" y="300.0" class="m" font-size="6.2" fill="#231f20" text-anchor="end" transform="rotate(-90 120.45 300.0)">12</text>
<text x="126.95" y="300.0" class="m" font-size="6.2" fill="#231f20" text-anchor="end" transform="rotate(-90 126.95 300.0)">1</text>
<text x="133.45" y="300.0" class="m" font-size="6.2" fill="#231f20" text-anchor="end" transform="rotate(-90 133.45 300.0)">2</text>
<text x="139.95" y="300.0" class="m" font-size="6.2" fill="#231f20" text-anchor="end" transform="rotate(-90 139.95 300.0)">3</text>
<text x="146.45" y="300.0" class="m" font-size="6.2" fill="#231f20" text-anchor="end" transform="rotate(-90 146.45 300.0)">4</text>
<text x="152.95" y="300.0" class="m" font-size="6.2" fill="#231f20" text-anchor="end" transform="rotate(-90 152.95 300.0)">5</text>
<text x="159.45" y="300.0" class="m" font-size="6.2" fill="#231f20" text-anchor="end" transform="rotate(-90 159.45 300.0)">6</text>
<text x="165.95" y="300.0" class="m" font-size="6.2" fill="#231f20" text-anchor="end" transform="rotate(-90 165.95 300.0)">7</text>
<text x="172.45" y="300.0" class="m" font-size="6.2" fill="#231f20" text-anchor="end" transform="rotate(-90 172.45 300.0)">8</text>
<text x="178.95" y="300.0" class="m" font-size="6.2" fill="#231f20" text-anchor="end" transform="rotate(-90 178.95 300.0)">9</text>
<text x="185.45" y="300.0" class="m" font-size="6.2" fill="#231f20" text-anchor="end" transform="rotate(-90 185.45 300.0)">11</text>
<text x="191.95" y="300.0" class="m" font-size="6.2" fill="#231f20" text-anchor="end" transform="rotate(-90 191.95 300.0)">12</text>
<text x="198.45" y="300.0" class="m" font-size="6.2" fill="#231f20" text-anchor="end" transform="rotate(-90 198.45 300.0)">2</text>
<text x="204.95" y="300.0" class="m" font-size="6.2" fill="#231f20" text-anchor="end" transform="rotate(-90 204.95 300.0)">4</text>
<text x="211.45" y="300.0" class="m" font-size="6.2" fill="#231f20" text-anchor="end" transform="rotate(-90 211.45 300.0)">5</text>
<text x="217.95" y="300.0" class="m" font-size="6.2" fill="#231f20" text-anchor="end" transform="rotate(-90 217.95 300.0)">7</text>
<text x="224.45" y="300.0" class="m" font-size="6.2" fill="#231f20" text-anchor="end" transform="rotate(-90 224.45 300.0)">8</text>
<text x="230.95" y="300.0" class="m" font-size="6.2" fill="#231f20" text-anchor="end" transform="rotate(-90 230.95 300.0)">9</text>
<text x="237.45" y="300.0" class="m" font-size="6.2" fill="#231f20" text-anchor="end" transform="rotate(-90 237.45 300.0)">11</text>
<text x="243.95" y="300.0" class="m" font-size="6.2" fill="#231f20" text-anchor="end" transform="rotate(-90 243.95 300.0)">12</text>
<text x="250.45" y="300.0" class="m" font-size="6.2" fill="#231f20" text-anchor="end" transform="rotate(-90 250.45 300.0)">1</text>
<text x="256.95" y="300.0" class="m" font-size="6.2" fill="#231f20" text-anchor="end" transform="rotate(-90 256.95 300.0)">2</text>
<text x="263.45" y="300.0" class="m" font-size="6.2" fill="#231f20" text-anchor="end" transform="rotate(-90 263.45 300.0)">3</text>
<text x="269.95" y="300.0" class="m" font-size="6.2" fill="#231f20" text-anchor="end" transform="rotate(-90 269.95 300.0)">4</text>
<text x="276.45" y="300.0" class="m" font-size="6.2" fill="#231f20" text-anchor="end" transform="rotate(-90 276.45 300.0)">5</text>
<text x="282.95" y="300.0" class="m" font-size="6.2" fill="#231f20" text-anchor="end" transform="rotate(-90 282.95 300.0)">6</text>
<text x="289.45" y="300.0" class="m" font-size="6.2" fill="#231f20" text-anchor="end" transform="rotate(-90 289.45 300.0)">7</text>
<text x="295.95" y="300.0" class="m" font-size="6.2" fill="#231f20" text-anchor="end" transform="rotate(-90 295.95 300.0)">8</text>
<text x="302.45" y="300.0" class="m" font-size="6.2" fill="#231f20" text-anchor="end" transform="rotate(-90 302.45 300.0)">9</text>
<text x="308.95" y="300.0" class="m" font-size="6.2" fill="#231f20" text-anchor="end" transform="rotate(-90 308.95 300.0)">11</text>
<text x="315.45" y="300.0" class="m" font-size="6.2" fill="#231f20" text-anchor="end" transform="rotate(-90 315.45 300.0)">12</text>
<text x="321.95" y="300.0" class="m" font-size="6.2" fill="#231f20" text-anchor="end" transform="rotate(-90 321.95 300.0)">109</text>
<text x="328.45" y="300.0" class="m" font-size="6.2" fill="#231f20" text-anchor="end" transform="rotate(-90 328.45 300.0)">115</text>
<text x="334.95" y="300.0" class="m" font-size="6.2" fill="#231f20" text-anchor="end" transform="rotate(-90 334.95 300.0)">119</text>
<text x="341.45" y="300.0" class="m" font-size="6.2" fill="#231f20" text-anchor="end" transform="rotate(-90 341.45 300.0)">22089</text>
<rect x="51.30" y="321.8" width="70.50" height="1.3" fill="#231f20"/>
<text x="86.45" y="332.9" font-size="8.1" class="g" text-anchor="middle" fill="#231f20" textLength="14.61" lengthAdjust="spacingAndGlyphs">HSC</text>
<rect x="122.80" y="321.8" width="70.50" height="1.3" fill="#231f20"/>
<text x="158.21" y="332.9" font-size="8.1" class="g" text-anchor="middle" fill="#231f20" textLength="13.39" lengthAdjust="spacingAndGlyphs">CLP</text>
<rect x="194.30" y="321.8" width="51.00" height="1.3" fill="#231f20"/>
<text x="220.12" y="332.9" font-size="8.1" class="g" text-anchor="middle" fill="#231f20" textLength="16.92" lengthAdjust="spacingAndGlyphs">proB</text>
<rect x="246.30" y="321.8" width="70.50" height="1.3" fill="#231f20"/>
<text x="281.90" y="332.9" font-size="8.1" class="g" text-anchor="middle" fill="#231f20" textLength="16.66" lengthAdjust="spacingAndGlyphs">preB</text>
<rect x="317.80" y="321.8" width="25.00" height="1.3" fill="#231f20"/>
<text x="330.78" y="332.9" font-size="8.1" class="g" text-anchor="middle" fill="#231f20" textLength="12.33" lengthAdjust="spacingAndGlyphs">ALL</text>
<rect x="358.3" y="266.80" width="7.7" height="7.2" fill="#fdf52a"/>
<rect x="358.3" y="273.91" width="7.7" height="7.2" fill="#d6cf42"/>
<rect x="358.3" y="281.02" width="7.7" height="7.2" fill="#a8a132"/>
<rect x="358.3" y="288.13" width="7.7" height="7.2" fill="#716d24"/>
<rect x="358.3" y="295.24" width="7.7" height="7.2" fill="#4f4b19"/>
<rect x="358.3" y="302.35" width="7.7" height="7.2" fill="#353211"/>
<rect x="358.3" y="309.46" width="7.7" height="7.2" fill="#1e1c08"/>
<rect x="358.3" y="316.57" width="7.7" height="7.2" fill="#050505"/>
<text x="367.7" y="272.6" font-size="6.9" class="t" fill="#231f20" textLength="12.6" lengthAdjust="spacingAndGlyphs">100</text>
<text x="367.7" y="286.9" font-size="6.9" class="t" fill="#231f20" textLength="7.8" lengthAdjust="spacingAndGlyphs">32</text>
<text x="367.7" y="308.5" font-size="6.9" class="t" fill="#231f20">4</text>
<text x="367.7" y="321.9" font-size="6.9" class="t" fill="#231f20">0</text>
<text x="-26.1" y="0" font-size="7.4" class="t" fill="#231f20" textLength="52.2" lengthAdjust="spacingAndGlyphs" transform="translate(355.3 295.2) rotate(-90)">% positive cells</text>
<rect x="0" y="0" width="520" height="1" fill="#111"/>
<rect x="0" y="1" width="520" height="1" fill="#999"/>
<rect x="0" y="0" width="1" height="342" fill="#1c1c1c"/>
<rect x="1" y="1" width="1" height="340" fill="#888"/>
<rect x="519" y="0" width="1" height="342" fill="#0a0a0a"/>
<rect x="518" y="1" width="1" height="340" fill="#8a8a8a"/>
<rect x="0" y="341" width="520" height="1" fill="#111"/>
<rect x="1" y="340" width="518" height="1" fill="#999"/>
</svg>
</body></html>
